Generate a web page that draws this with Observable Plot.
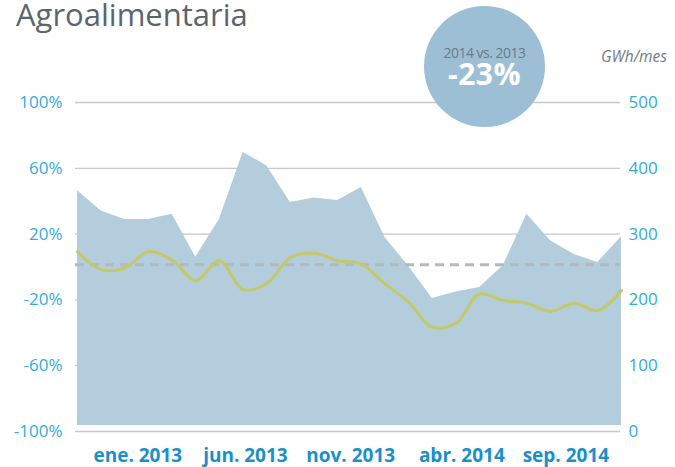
<!DOCTYPE html>
<html><head><meta charset="utf-8">
<script src="https://cdn.jsdelivr.net/npm/d3@7"></script>
<script src="https://cdn.jsdelivr.net/npm/@observablehq/plot@0.6"></script>
<style>
body{margin:0;background:#fff;}
#wrap{position:relative;width:675px;height:467px;font-family:"Open Sans",sans-serif;overflow:hidden;}
#title{position:absolute;left:16px;top:0px;font-size:31px;line-height:28px;color:#5b656c;white-space:nowrap;}
#badge{position:absolute;left:424px;top:6px;width:121px;height:121px;border-radius:50%;background:#9dbfd5;z-index:2;}
#badge .txt{position:absolute;left:0;right:0;top:38px;text-align:center;font-size:14px;line-height:18px;color:#6c7a86;letter-spacing:-0.5px;}
#badge .big{font-size:30px;font-weight:bold;color:#fff;letter-spacing:0.5px;line-height:24px;}
#unit{position:absolute;left:601px;top:45px;font-size:15.5px;font-style:italic;color:#737b82;}
#chart{position:absolute;left:0;top:0;}
</style>
</head><body>
<div id="wrap">
  <div id="chart"></div>
  <div id="title">Agroalimentaria</div>
  <div id="badge"><div class="txt">2014 vs. 2013<br><span class="big">-23%</span></div></div>
  <div id="unit">GWh/mes</div>
</div>
<script>
// monthly consumption (GWh/mes), 24 months
const gwh = [366,335,322,322,330,265,322,424,404,348,355,351,371,295,251,202,212,219,252,330,290,269,257,296];
// year-on-year variation (%)
const pct = [9.3,-1.6,-0.6,9.3,4.2,-8.3,3.8,-13.8,-10,5.8,8.5,3.8,1.8,-10.3,-21.4,-36.6,-34.2,-16.4,-20.4,-22,-26.9,-22,-26.5,-14.3];
const refPct = 1.3;         // dashed reference level (%)
const areaBase = 9;         // area baseline (GWh)
const xLabels = ["ene. 2013","jun. 2013","nov. 2013","abr. 2014","sep. 2014"];
const xLabelPos = [2.55, 7.1, 11.55, 16.25, 20.65];
const leftTicks = [100,60,20,-20,-60,-100];
const rightTicks = [500,400,300,200,100,0];

const toG = p => (p + 100) * 2.5;
const data = gwh.map((g, i) => ({i, gwh: g, pct: pct[i]}));

const chart = Plot.plot({
  width: 675, height: 467,
  marginTop: 102, marginBottom: 36, marginLeft: 75, marginRight: 55,
  style: {fontFamily: "'Open Sans', sans-serif", background: "transparent"},
  x: {domain: [0, 23], insetLeft: 2, insetRight: -1},
  y: {domain: [0, 500]},
  marks: [
    Plot.ruleY(rightTicks, {stroke: "#c8c8c8", strokeWidth: 1.3}),
    Plot.areaY(data, {x: "i", y1: areaBase, y2: "gwh", fill: "#b3cddd"}),
    Plot.ruleY([refPct], {y: d => toG(d), stroke: "#b3b9bd", strokeWidth: 3, strokeDasharray: "9,6"}),
    Plot.line(data, {x: "i", y: d => toG(d.pct), stroke: "#c4c968", strokeWidth: 3, curve: "catmull-rom"}),
    Plot.axisY(leftTicks.map(toG), {anchor: "left", tickSize: 0, tickPadding: 13, label: null,
      tickFormat: (d, i) => leftTicks[i] + "%", fill: "#35aadc", fontSize: 17}),
    Plot.axisY(rightTicks, {anchor: "right", tickSize: 0, tickPadding: 8, label: null,
      tickFormat: d => String(d), fill: "#35aadc", fontSize: 17}),
    Plot.axisX(xLabelPos, {anchor: "bottom", tickSize: 0, tickPadding: 17, label: null,
      tickFormat: (d, i) => xLabels[i], fill: "#1a90c9", fontSize: 19, fontWeight: "bold",
      fontFamily: "'Liberation Sans Narrow', 'Open Sans', sans-serif"})
  ]
});
document.getElementById("chart").appendChild(chart);
</script>
</body></html>
